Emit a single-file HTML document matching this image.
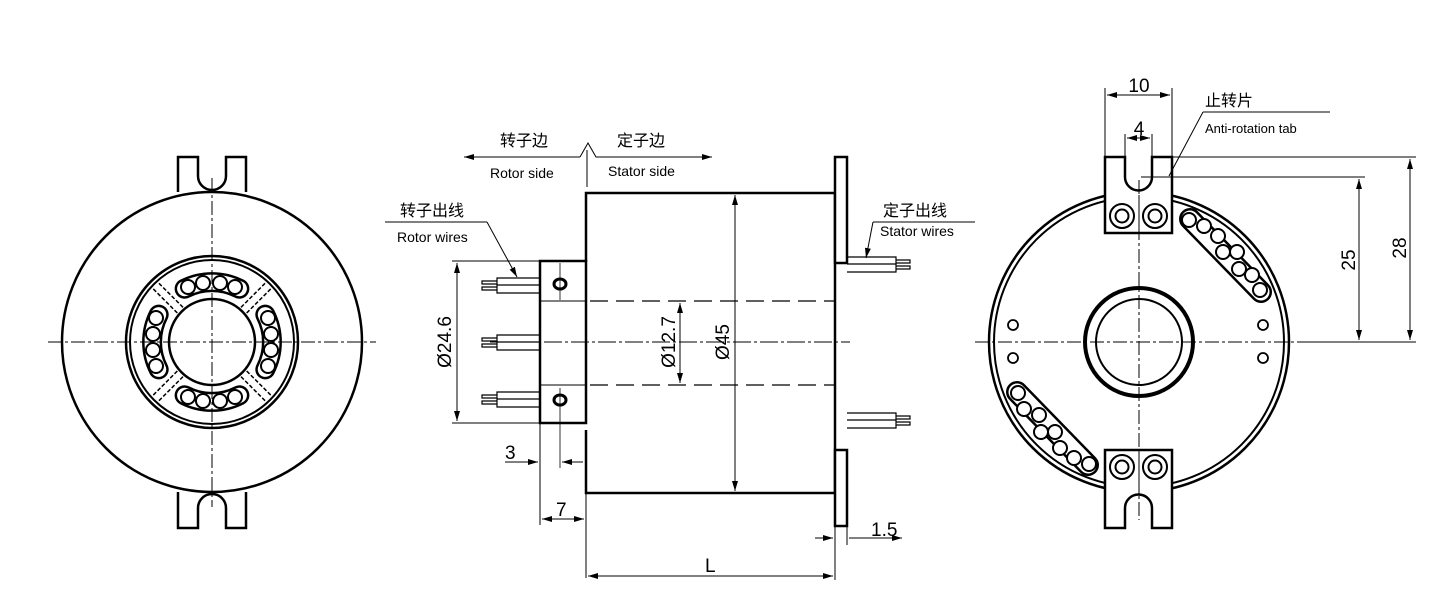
<!DOCTYPE html>
<html><head><meta charset="utf-8"><style>
html,body{margin:0;padding:0;background:#fff;}
svg{display:block;}
text{font-family:"Liberation Sans","Noto Sans CJK SC",sans-serif;fill:#000;}
</style></head><body>
<svg width="1453" height="612" viewBox="0 0 1453 612" xmlns="http://www.w3.org/2000/svg">
<defs>
<marker id="a" viewBox="0 0 10 6" refX="10" refY="3" markerWidth="10" markerHeight="6" orient="auto-start-reverse" markerUnits="userSpaceOnUse"><path d="M0,0 L10,3 L0,6 z" fill="#000"/></marker>
</defs>
<g fill="none" stroke="#000">
<!-- ========== LEFT VIEW ========== -->
<path d="M178,192 V157 H198 V176 A14,14 0 0 0 226,176 V157 H246 V192" stroke-width="2.5" fill="#fff"/>
<path d="M178,492 V528 H198 V508 A14,14 0 0 1 226,508 V528 H246 V492" stroke-width="2.5" fill="#fff"/>
<circle cx="212" cy="342" r="150" stroke-width="2.5" fill="#fff"/>
<circle cx="212" cy="342" r="86" stroke-width="2.5"/>
<circle cx="212" cy="342" r="82" stroke-width="2"/>
<circle cx="212" cy="342" r="43" stroke-width="2.5"/>
<g stroke-width="1.5" stroke-dasharray="4,2">
<g transform="rotate(45 212 342)"><line x1="208" y1="297" x2="208" y2="262"/><line x1="216" y1="297" x2="216" y2="262"/><line x1="208" y1="387" x2="208" y2="422"/><line x1="216" y1="387" x2="216" y2="422"/></g>
<g transform="rotate(-45 212 342)"><line x1="208" y1="297" x2="208" y2="262"/><line x1="216" y1="297" x2="216" y2="262"/><line x1="208" y1="387" x2="208" y2="422"/><line x1="216" y1="387" x2="216" y2="422"/></g>
</g>
<!-- ball slots -->
<g>
<path id="arcT" d="M184.6,288.7 A60,60 0 0 1 239.4,288.7" stroke-width="20" stroke-linecap="round"/>
<path d="M184.6,288.7 A60,60 0 0 1 239.4,288.7" stroke-width="15" stroke="#fff" stroke-linecap="round"/>
<path d="M184.6,395.3 A60,60 0 0 0 239.4,395.3" stroke-width="20" stroke-linecap="round"/>
<path d="M184.6,395.3 A60,60 0 0 0 239.4,395.3" stroke-width="15" stroke="#fff" stroke-linecap="round"/>
<path d="M158.7,314.6 A60,60 0 0 0 158.7,369.4" stroke-width="20" stroke-linecap="round"/>
<path d="M158.7,314.6 A60,60 0 0 0 158.7,369.4" stroke-width="15" stroke="#fff" stroke-linecap="round"/>
<path d="M265.3,314.6 A60,60 0 0 1 265.3,369.4" stroke-width="20" stroke-linecap="round"/>
<path d="M265.3,314.6 A60,60 0 0 1 265.3,369.4" stroke-width="15" stroke="#fff" stroke-linecap="round"/>
</g>
<g stroke-width="2" fill="#fff">
<circle cx="188" cy="287" r="7"/><circle cx="203" cy="283" r="7"/><circle cx="220" cy="283" r="7"/><circle cx="235" cy="287" r="7"/>
<circle cx="188" cy="397" r="7"/><circle cx="203" cy="401" r="7"/><circle cx="220" cy="401" r="7"/><circle cx="235" cy="397" r="7"/>
<circle cx="156" cy="318" r="7"/><circle cx="153" cy="334" r="7"/><circle cx="153" cy="350" r="7"/><circle cx="156" cy="366" r="7"/>
<circle cx="268" cy="318" r="7"/><circle cx="271" cy="334" r="7"/><circle cx="271" cy="350" r="7"/><circle cx="268" cy="366" r="7"/>
</g>
<g stroke-width="1" stroke-dasharray="14,3,3,3">
<line x1="48" y1="342" x2="376" y2="342"/><line x1="212" y1="178" x2="212" y2="507"/>
</g>

<!-- ========== MIDDLE VIEW ========== -->
<!-- body -->
<path d="M586,262 V193 H835" stroke-width="2.5"/>
<path d="M586,430 V493 H835" stroke-width="2.5"/>
<line x1="586" y1="493" x2="586" y2="578" stroke-width="1"/>
<line x1="835" y1="193" x2="835" y2="493" stroke-width="2.5"/>
<!-- flange -->
<rect x="835" y="157" width="12" height="106" stroke-width="2.5" fill="#fff"/>
<rect x="835" y="450" width="12" height="76" stroke-width="2.5" fill="#fff"/>
<!-- rotor block -->
<rect x="540" y="261" width="46" height="162" stroke-width="2.5"/>
<line x1="540" y1="301" x2="586" y2="301" stroke-width="1"/>
<line x1="540" y1="385" x2="586" y2="385" stroke-width="1"/>
<ellipse cx="560" cy="284" rx="6" ry="5" stroke-width="3"/>
<ellipse cx="560" cy="400" rx="6" ry="5" stroke-width="3"/>
<line x1="560" y1="263" x2="560" y2="300" stroke-width="0.8"/>
<line x1="560" y1="388" x2="560" y2="468" stroke-width="0.8"/>
<g stroke-width="1.2" stroke-dasharray="18,8">
<line x1="590" y1="301" x2="835" y2="301"/><line x1="590" y1="385" x2="835" y2="385"/>
</g>
<line x1="490" y1="342" x2="850" y2="342" stroke-width="1" stroke-dasharray="18,3,3,3"/>
<!-- rotor wires -->
<g stroke-width="1.2">
<path d="M540,278 H497 V293 H540 M497,285 H540"/>
<path d="M497,281 H482 V284 H497 M497,287 H482 V290 H497"/>
<path d="M540,335 H497 V350 H540 M497,342 H540"/>
<path d="M497,338 H482 V341 H497 M497,344 H482 V347 H497"/>
<path d="M540,392 H497 V407 H540 M497,399 H540"/>
<path d="M497,395 H482 V398 H497 M497,401 H482 V404 H497"/>
</g>
<!-- stator wires -->
<g stroke-width="1.2">
<path d="M847,257 H896 V272 H847 M847,264 H896"/>
<path d="M896,260 H910 V263 H896 M896,266 H910 V269 H896"/>
<path d="M847,413 H896 V428 H847 M847,420 H896"/>
<path d="M896,416 H910 V419 H896 M896,422 H910 V425 H896"/>
</g>
<!-- dims -->
<g stroke-width="1">
<line x1="452" y1="261" x2="540" y2="261"/><line x1="452" y1="423" x2="540" y2="423"/>
<line x1="457" y1="263" x2="457" y2="421" marker-start="url(#a)" marker-end="url(#a)"/>
<line x1="680" y1="303" x2="680" y2="383" marker-start="url(#a)" marker-end="url(#a)"/>
<line x1="735" y1="195" x2="735" y2="491" marker-start="url(#a)" marker-end="url(#a)"/>
<line x1="540" y1="423" x2="540" y2="525"/>
<line x1="505" y1="462" x2="538" y2="462" marker-end="url(#a)"/>
<line x1="583" y1="462" x2="562" y2="462" marker-end="url(#a)"/>
<line x1="542" y1="519" x2="584" y2="519" marker-start="url(#a)" marker-end="url(#a)"/>
<line x1="835" y1="493" x2="835" y2="580"/><line x1="847" y1="526" x2="847" y2="545"/>
<line x1="815" y1="538" x2="833" y2="538" marker-end="url(#a)"/>
<line x1="902" y1="538" x2="849" y2="538" marker-start="url(#a)" transform="" />
<line x1="588" y1="576" x2="833" y2="576" marker-start="url(#a)" marker-end="url(#a)"/>
<!-- labels leaders -->
<line x1="464" y1="157" x2="580" y2="157" marker-start="url(#a)"/>
<path d="M580,157 L588,143 L596,157 H712" marker-end="url(#a)"/>
<line x1="587" y1="150" x2="587" y2="187"/>
<line x1="385" y1="222" x2="487" y2="222"/>
<line x1="487" y1="222" x2="517" y2="277" marker-end="url(#a)"/>
<line x1="873" y1="222" x2="975" y2="222"/>
<line x1="873" y1="222" x2="866" y2="258" marker-end="url(#a)"/>
</g>

<!-- ========== RIGHT VIEW ========== -->
<circle cx="1139" cy="342" r="150" stroke-width="2.5"/>
<circle cx="1139" cy="342" r="145" stroke-width="2"/>
<circle cx="1139" cy="342" r="54" stroke-width="4"/>
<circle cx="1139" cy="342" r="43" stroke-width="2"/>
<g stroke-width="1.8">
<circle cx="1013" cy="325" r="5"/><circle cx="1013" cy="358" r="5"/><circle cx="1263" cy="325" r="5"/><circle cx="1263" cy="358" r="5"/>
</g>
<!-- ball capsules -->
<line x1="1190" y1="219" x2="1261" y2="292" stroke-width="22" stroke-linecap="round"/>
<line x1="1190" y1="219" x2="1261" y2="292" stroke-width="17" stroke="#fff" stroke-linecap="round"/>
<line x1="1017" y1="392" x2="1088" y2="465" stroke-width="22" stroke-linecap="round"/>
<line x1="1017" y1="392" x2="1088" y2="465" stroke-width="17" stroke="#fff" stroke-linecap="round"/>
<g stroke-width="2" fill="#fff">
<circle cx="1189" cy="220" r="7"/><circle cx="1204" cy="226" r="7"/><circle cx="1218" cy="236" r="7"/><circle cx="1223" cy="252" r="7"/><circle cx="1237" cy="252" r="7"/><circle cx="1239" cy="269" r="7"/><circle cx="1252" cy="275" r="7"/><circle cx="1260" cy="290" r="7"/>
<circle cx="1018" cy="393" r="7"/><circle cx="1024" cy="409" r="7"/><circle cx="1039" cy="415" r="7"/><circle cx="1041" cy="432" r="7"/><circle cx="1055" cy="432" r="7"/><circle cx="1060" cy="448" r="7"/><circle cx="1074" cy="458" r="7"/><circle cx="1089" cy="464" r="7"/>
</g>
<!-- tabs -->
<path d="M1105,233 V157 H1125 V177 A13.5,13.5 0 0 0 1152,177 V157 H1172 V233 Z" stroke-width="2.5" fill="#fff"/>
<path d="M1105,450 V528 H1125 V508 A13.5,13.5 0 0 1 1152,508 V528 H1172 V450 Z" stroke-width="2.5" fill="#fff"/>
<line x1="1139" y1="195" x2="1139" y2="233" stroke-width="1"/>
<line x1="1139" y1="450" x2="1139" y2="494" stroke-width="1"/>
<g stroke-width="2" fill="#fff">
<circle cx="1122" cy="216" r="12"/><circle cx="1122" cy="216" r="6.5"/>
<circle cx="1155" cy="216" r="12"/><circle cx="1155" cy="216" r="6.5"/>
<circle cx="1122" cy="467" r="12"/><circle cx="1122" cy="467" r="6.5"/>
<circle cx="1155" cy="467" r="12"/><circle cx="1155" cy="467" r="6.5"/>
</g>
<g stroke-width="1" stroke-dasharray="14,3,3,3">
<line x1="975" y1="342" x2="1305" y2="342"/><line x1="1139" y1="180" x2="1139" y2="520"/>
</g>
<g stroke-width="1">
<line x1="1105" y1="88" x2="1105" y2="157"/><line x1="1172" y1="88" x2="1172" y2="157"/>
<line x1="1107" y1="95" x2="1170" y2="95" marker-start="url(#a)" marker-end="url(#a)"/>
<line x1="1125" y1="134" x2="1125" y2="157"/><line x1="1152" y1="134" x2="1152" y2="157"/>
<line x1="1127" y1="138" x2="1150" y2="138" marker-start="url(#a)" marker-end="url(#a)"/>
<line x1="1203" y1="112" x2="1330" y2="112"/>
<line x1="1203" y1="112" x2="1169" y2="176"/>
<line x1="1172" y1="157" x2="1416" y2="157"/>
<line x1="1141" y1="177" x2="1365" y2="177"/>
<line x1="1305" y1="342" x2="1416" y2="342"/>
<line x1="1359" y1="179" x2="1359" y2="340" marker-start="url(#a)" marker-end="url(#a)"/>
<line x1="1410" y1="159" x2="1410" y2="340" marker-start="url(#a)" marker-end="url(#a)"/>
</g>
</g>

<!-- TEXT -->
<g font-size="15">
<text x="500" y="146" font-size="16">转子边</text>
<text x="617" y="146" font-size="16">定子边</text>
<text x="490" y="178" font-size="14">Rotor side</text>
<text x="608" y="176" font-size="14">Stator side</text>
<text x="400" y="216" font-size="16">转子出线</text>
<text x="397" y="242" font-size="14">Rotor wires</text>
<text x="883" y="216" font-size="16">定子出线</text>
<text x="880" y="236" font-size="14">Stator wires</text>
<text x="1205" y="106" font-size="16">止转片</text>
<text x="1205" y="133" font-size="13">Anti-rotation tab</text>
</g>
<g font-size="19">
<text transform="translate(451,342) rotate(-90)" text-anchor="middle">Ø24.6</text>
<text transform="translate(675,342) rotate(-90)" text-anchor="middle">Ø12.7</text>
<text transform="translate(729,342) rotate(-90)" text-anchor="middle">Ø45</text>
<text x="505" y="459">3</text>
<text x="556" y="516">7</text>
<text x="871" y="536">1.5</text>
<text x="705" y="572">L</text>
<text x="1139" y="92" text-anchor="middle">10</text>
<text x="1139" y="135" text-anchor="middle">4</text>
<text transform="translate(1355,260) rotate(-90)" text-anchor="middle">25</text>
<text transform="translate(1406,248) rotate(-90)" text-anchor="middle">28</text>
</g>
</svg>
</body></html>
